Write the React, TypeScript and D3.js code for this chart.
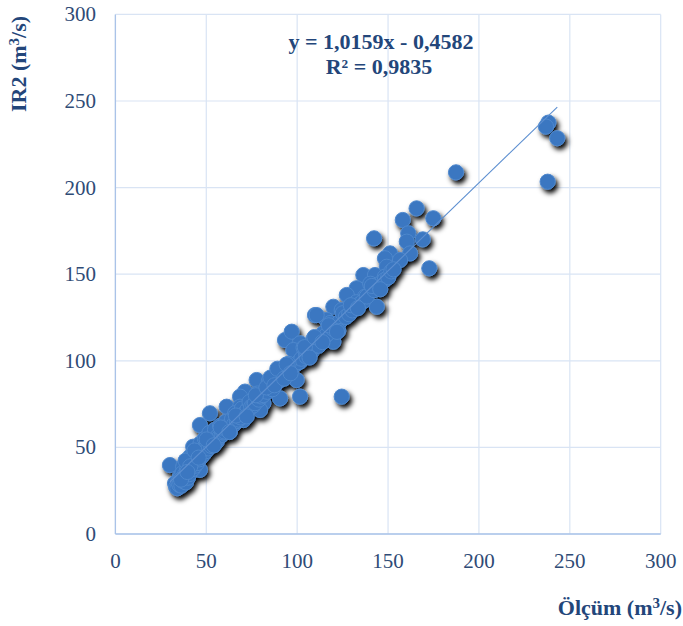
import React from "react";
import * as d3 from "d3";

// Measured discharge (Ölçüm) and IR2 model estimate, m³/s
const measured: number[] = [
  238.2, 236.9, 243.1, 237.8, 187.4, 174.9, 165.7, 158.1, 142.3, 161.1,
  169.1, 160.3, 172.7, 162.1, 151.1, 148.3, 156.6, 149.3, 136.4, 142.8,
  148.3, 143.8, 132.7, 127.3, 137.3, 119.9, 109.8, 124.5, 116.2, 110.7,
  93.3, 97.0, 119.9, 114.4, 101.6, 108.0, 97.9, 119.9, 101.6, 92.4,
  99.7, 90.6, 81.4, 77.7, 90.6, 101.6, 124.5, 71.3, 68.6, 61.2,
  75.9, 81.4, 52.0, 46.5, 52.0, 61.2, 68.6, 74.1, 42.8, 30.0,
  37.3, 46.5, 32.8, 35.5, 41.0, 48.3, 55.7, 63.0, 70.4, 79.6,
  33.4, 34.1, 34.6, 35.2, 35.8, 36.3, 36.9, 37.4, 38.2, 38.8,
  39.3, 39.9, 40.4, 40.7, 41.5, 41.9, 42.6, 43.1, 43.8, 44.2,
  44.9, 45.3, 46.1, 46.8, 47.2, 47.9, 48.6, 49.2, 49.8, 50.5,
  51.1, 51.7, 52.6, 53.3, 53.9, 54.8, 55.4, 56.2, 57.1, 57.6,
  58.5, 59.3, 60.1, 60.7, 61.8, 62.4, 63.5, 64.2, 65.3, 65.9,
  66.8, 67.7, 68.9, 69.6, 70.8, 71.9, 72.6, 73.8, 74.7, 75.9,
  76.8, 78.1, 78.9, 80.2, 81.3, 82.5, 83.6, 84.4, 85.7, 86.9,
  87.8, 88.6, 89.9, 91.2, 92.1, 93.5, 94.8, 95.6, 96.9, 98.3,
  99.4, 100.8, 102.3, 103.5, 104.9, 106.2, 107.4, 108.9, 110.3, 111.6,
  113.2, 114.8, 116.5, 118.1, 119.6, 121.4, 123.3, 125.1, 126.8, 128.6,
  130.4, 132.5, 134.2, 136.1, 138.3, 140.2, 142.4, 144.6, 146.5, 148.2,
  150.1, 151.8, 153.0, 88.2, 84.9, 95.3, 86.4, 105.1, 111.8, 122.6,
  38.6, 41.2, 43.5, 45.8, 50.2, 54.1, 57.9, 62.7, 66.3, 72.2,
  77.3, 83.1, 85.3, 87.5, 89.1, 92.8, 94.2, 96.4, 104.2, 106.8,
  109.5, 113.9, 117.4, 121.9, 129.5, 133.4, 141.1, 145.7, 36.1, 39.6,
];

const estimated: number[] = [
  237.5, 235.2, 228.5, 203.4, 208.8, 182.3, 188.0, 181.3, 170.7, 173.6,
  170.1, 168.8, 153.4, 162.0, 162.0, 159.2, 158.2, 154.3, 149.5, 149.5,
  148.6, 131.2, 141.9, 138.0, 137.0, 131.2, 126.4, 129.3, 123.6, 126.4,
  112.0, 116.8, 119.7, 115.9, 110.1, 105.3, 106.2, 111.0, 99.5, 93.7,
  88.9, 88.9, 85.0, 88.9, 78.3, 79.3, 79.3, 82.2, 79.3, 73.5,
  77.4, 75.5, 69.7, 62.9, 57.2, 63.9, 73.5, 75.5, 50.4, 39.8,
  38.9, 37.0, 29.3, 33.1, 44.6, 48.5, 53.3, 59.1, 65.8, 71.6,
  27.1, 26.4, 30.2, 28.3, 32.6, 27.9, 35.1, 30.4, 34.2, 29.8,
  36.7, 32.5, 40.1, 34.6, 38.2, 44.3, 37.5, 41.6, 39.4, 46.8,
  40.9, 45.2, 43.1, 52.3, 44.5, 48.7, 46.2, 55.1, 47.8, 51.9,
  49.4, 58.3, 50.9, 53.8, 52.4, 60.2, 54.1, 56.3, 55.9, 62.4,
  57.2, 58.6, 59.1, 64.7, 60.4, 62.8, 61.9, 66.5, 63.4, 69.8,
  65.2, 66.1, 67.3, 72.4, 69.1, 70.6, 71.8, 76.2, 73.4, 74.2,
  75.5, 81.1, 77.6, 79.4, 80.2, 82.6, 82.1, 88.3, 84.3, 85.2,
  86.1, 92.4, 88.7, 90.1, 90.6, 96.8, 93.2, 94.1, 95.8, 97.4,
  98.1, 99.3, 101.2, 107.6, 103.8, 104.9, 106.3, 112.4, 109.1, 110.5,
  112.3, 113.6, 115.4, 121.8, 118.6, 120.2, 122.4, 127.5, 125.3, 126.9,
  129.1, 133.8, 132.6, 134.2, 137.1, 144.5, 140.8, 143.9, 145.3, 146.7,
  148.2, 151.6, 152.8, 91.5, 87.1, 98.2, 83.6, 102.4, 108.7, 117.3,
  42.3, 39.1, 48.2, 44.1, 54.6, 51.2, 61.5, 58.9, 68.4, 67.9,
  80.1, 84.6, 90.3, 85.9, 95.4, 89.7, 97.9, 92.8, 107.9, 101.9,
  113.7, 110.8, 120.5, 116.7, 132.1, 130.4, 143.2, 141.3, 31.4, 35.8,
];

// Linear trendline reported on the chart
const slope = 1.0159;
const intercept = -0.4582;
const equationText = "y = 1,0159x - 0,4582";
const rSquaredText = "R² = 0,9835";

const xTicks = [0, 50, 100, 150, 200, 250, 300];
const yTicks = [0, 50, 100, 150, 200, 250, 300];

const W = 683;
const H = 626;

export default function App() {
  const x = d3.scaleLinear().domain([0, 300]).range([115.4, 660.7]);
  const y = d3.scaleLinear().domain([0, 300]).range([534, 14.4]);

  const points = measured.map((m, i) => ({ m, e: estimated[i] }));
  const xMin = d3.min(measured) as number;
  const xMax = d3.max(measured) as number;
  const trend = d3.line<number>()
    .x((v) => x(v))
    .y((v) => y(slope * v + intercept));

  const tickColor = "#2f4b76";
  const titleColor = "#23467a";
  const font = "'Liberation Serif', 'Times New Roman', serif";

  return (
    <svg
      width={W}
      height={H}
      style={{ position: "absolute", left: 0, top: 0, background: "#fff" }}
      fontFamily={font}
    >
      <defs>
        <filter id="markerShadow" x="-20%" y="-20%" width="140%" height="140%">
          <feDropShadow dx="2.5" dy="3.5" stdDeviation="2.4" floodColor="#000" floodOpacity="1" />
        </filter>
      </defs>

      {/* grid */}
      <g>
        {xTicks.map((t) => (
          <line key={"gx" + t} x1={x(t)} x2={x(t)} y1={y(0)} y2={y(300)} stroke="#d9e4f4" strokeWidth={1.2} />
        ))}
        {yTicks.map((t) => (
          <line key={"gy" + t} x1={x(0)} x2={x(300)} y1={y(t)} y2={y(t)} stroke="#d9e4f4" strokeWidth={1.2} />
        ))}
        <line x1={x(0)} x2={x(0)} y1={y(0)} y2={y(300)} stroke="#aac3e8" strokeWidth={1.3} />
        <line x1={x(0)} x2={x(300)} y1={y(0)} y2={y(0)} stroke="#aac3e8" strokeWidth={1.3} />
      </g>

      {/* tick labels */}
      <g fill={tickColor} fontSize={21}>
        {yTicks.map((t) => (
          <text key={"ty" + t} x={96} y={y(t) + 7} textAnchor="end">{t}</text>
        ))}
        {xTicks.map((t) => (
          <text key={"tx" + t} x={x(t)} y={568} textAnchor="middle">{t}</text>
        ))}
      </g>

      {/* markers */}
      <g filter="url(#markerShadow)">
        {points.map((p, i) => (
          <circle
            key={i}
            cx={x(p.m)}
            cy={y(p.e)}
            r={7.6}
            fill="#3a77c1"
            stroke="#4f88cd"
            strokeWidth={1}
          />
        ))}
      </g>

      {/* trendline */}
      <path d={trend([xMin, xMax]) || ""} fill="none" stroke="#5d8fd0" strokeWidth={1.1} />

      {/* equation */}
      <g fill={titleColor} fontWeight="bold" fontSize={22} textAnchor="middle">
        <text x={381} y={49}>{equationText}</text>
        <text x={379} y={74}>{rSquaredText}</text>
      </g>

      {/* axis titles */}
      <text
        transform="translate(26,64) rotate(-90)"
        textAnchor="middle"
        fill={titleColor}
        fontWeight="bold"
        fontSize={22}
      >
        IR2 (m<tspan dy={-7} fontSize={15}>3</tspan><tspan dy={7}>/s)</tspan>
      </text>
      <text x={682} y={615} textAnchor="end" fill={titleColor} fontWeight="bold" fontSize={22}>
        Ölçüm (m<tspan dy={-7} fontSize={15}>3</tspan><tspan dy={7}>/s)</tspan>
      </text>
    </svg>
  );
}
